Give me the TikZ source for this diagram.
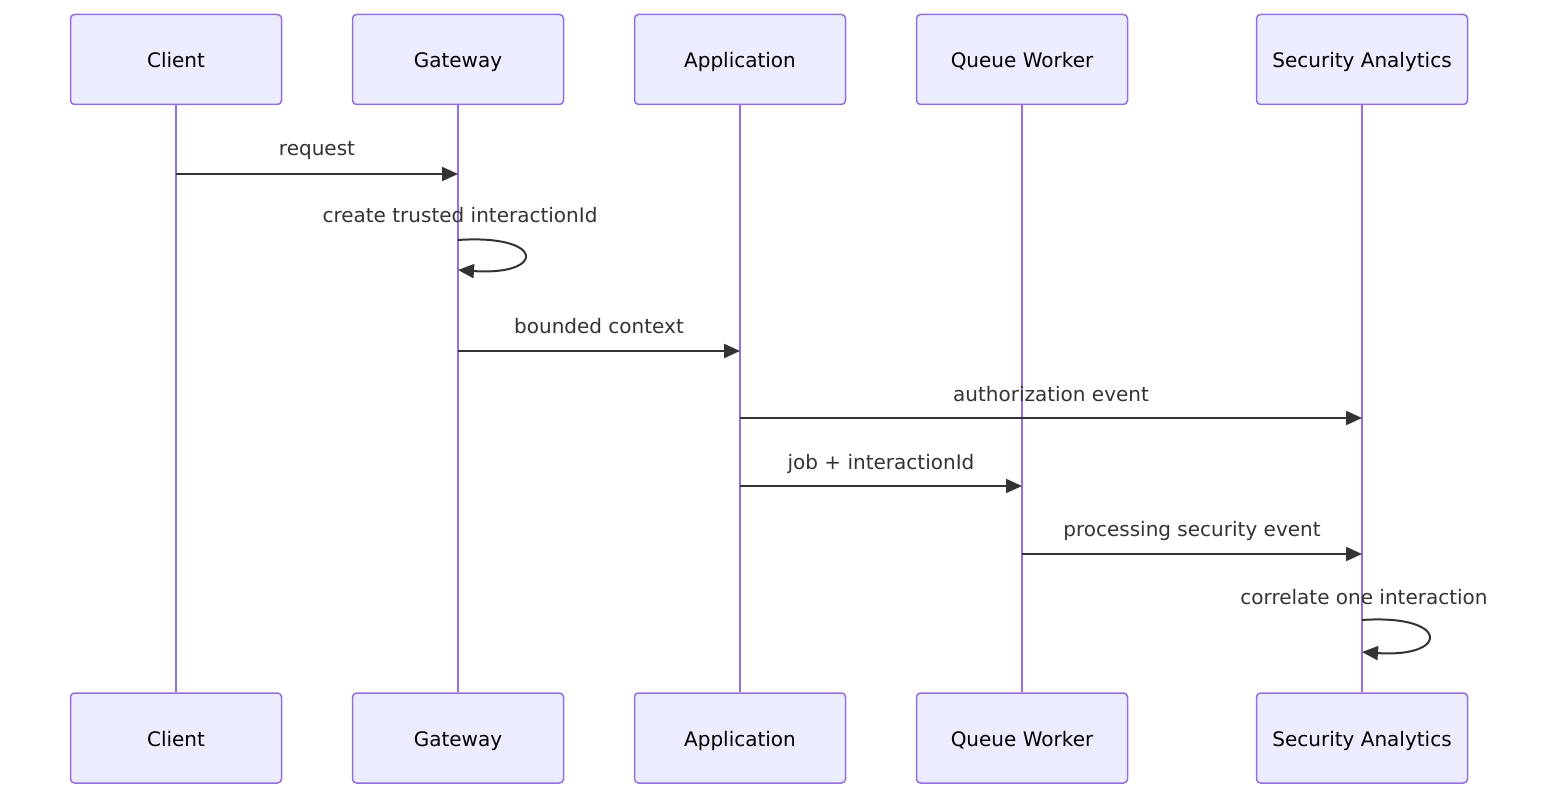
\documentclass[tikz,border=0pt]{standalone}
\usepackage{fontspec}
\setmainfont{DejaVu Sans}
\usetikzlibrary{arrows.meta, positioning, calc}
\definecolor{actorfill}{HTML}{ECECFF}
\definecolor{actorline}{HTML}{9370DB}
\definecolor{msgline}{HTML}{333333}

\tikzset{
    actor/.style={draw=actorline, fill=actorfill, line width=1.5pt, rounded corners=4pt,
                  minimum width=211pt, minimum height=90pt, inner sep=0pt,
                  text height=20pt, text depth=4pt,
                  font=\fontsize{20}{24}\selectfont},
    lifeline/.style={actorline, line width=2.5pt},
    msg/.style={msgline, line width=2pt, -{Triangle[length=16pt, width=14pt]}},
    msglabel/.style={text=msgline, inner sep=0pt, text height=20pt, text depth=4pt,
                     font=\fontsize{20}{24}\selectfont}
}

\begin{document}
\begin{tikzpicture}[x=1pt, y=-1pt]
    \useasboundingbox (0,0) rectangle (1568,810);

    % participants, top and bottom
    \foreach \name/\txt/\px in {client/Client/176, gateway/Gateway/458,
                                app/Application/740, worker/Queue Worker/1022,
                                analytics/Security Analytics/1362} {
        \node[actor] (\name-top) at (\px,59.5) {\txt};
        \node[actor] (\name-bot) at (\px,738) {\txt};
        \draw[lifeline] (\name-top.south) -- (\name-bot.north);
    }

    % messages
    \draw[msg] (client-top |- 0,174) -- (gateway-top |- 0,174)
        node[msglabel, midway, yshift=26pt] {request};

    \coordinate (loopA) at (gateway-top |- 0,240);
    \coordinate (loopB) at (gateway-top |- 0,270);
    \node[msglabel] (selfA) at ($(loopA)+(2,-25)$) {create trusted interactionId};
    \draw[msg] (loopA) .. controls ($(loopA)+(88,-6)$) and ($(loopB)+(88,6)$) .. (loopB);

    \draw[msg] (gateway-top |- 0,351) -- (app-top |- 0,351)
        node[msglabel, midway, yshift=26pt] {bounded context};

    \draw[msg] (app-top |- 0,418) -- (analytics-top |- 0,418)
        node[msglabel, midway, yshift=25pt] {authorization event};

    \draw[msg] (app-top |- 0,486) -- (worker-top |- 0,486)
        node[msglabel, midway, yshift=25pt] {job + interactionId};

    \draw[msg] (worker-top |- 0,554) -- (analytics-top |- 0,554)
        node[msglabel, midway, yshift=26pt] {processing security event};

    \coordinate (loopC) at (analytics-top |- 0,620);
    \coordinate (loopD) at (analytics-top |- 0,652);
    \node[msglabel] (selfB) at ($(loopC)+(2,-24)$) {correlate one interaction};
    \draw[msg] (loopC) .. controls ($(loopC)+(88,-6)$) and ($(loopD)+(88,6)$) .. (loopD);
\end{tikzpicture}
\end{document}
